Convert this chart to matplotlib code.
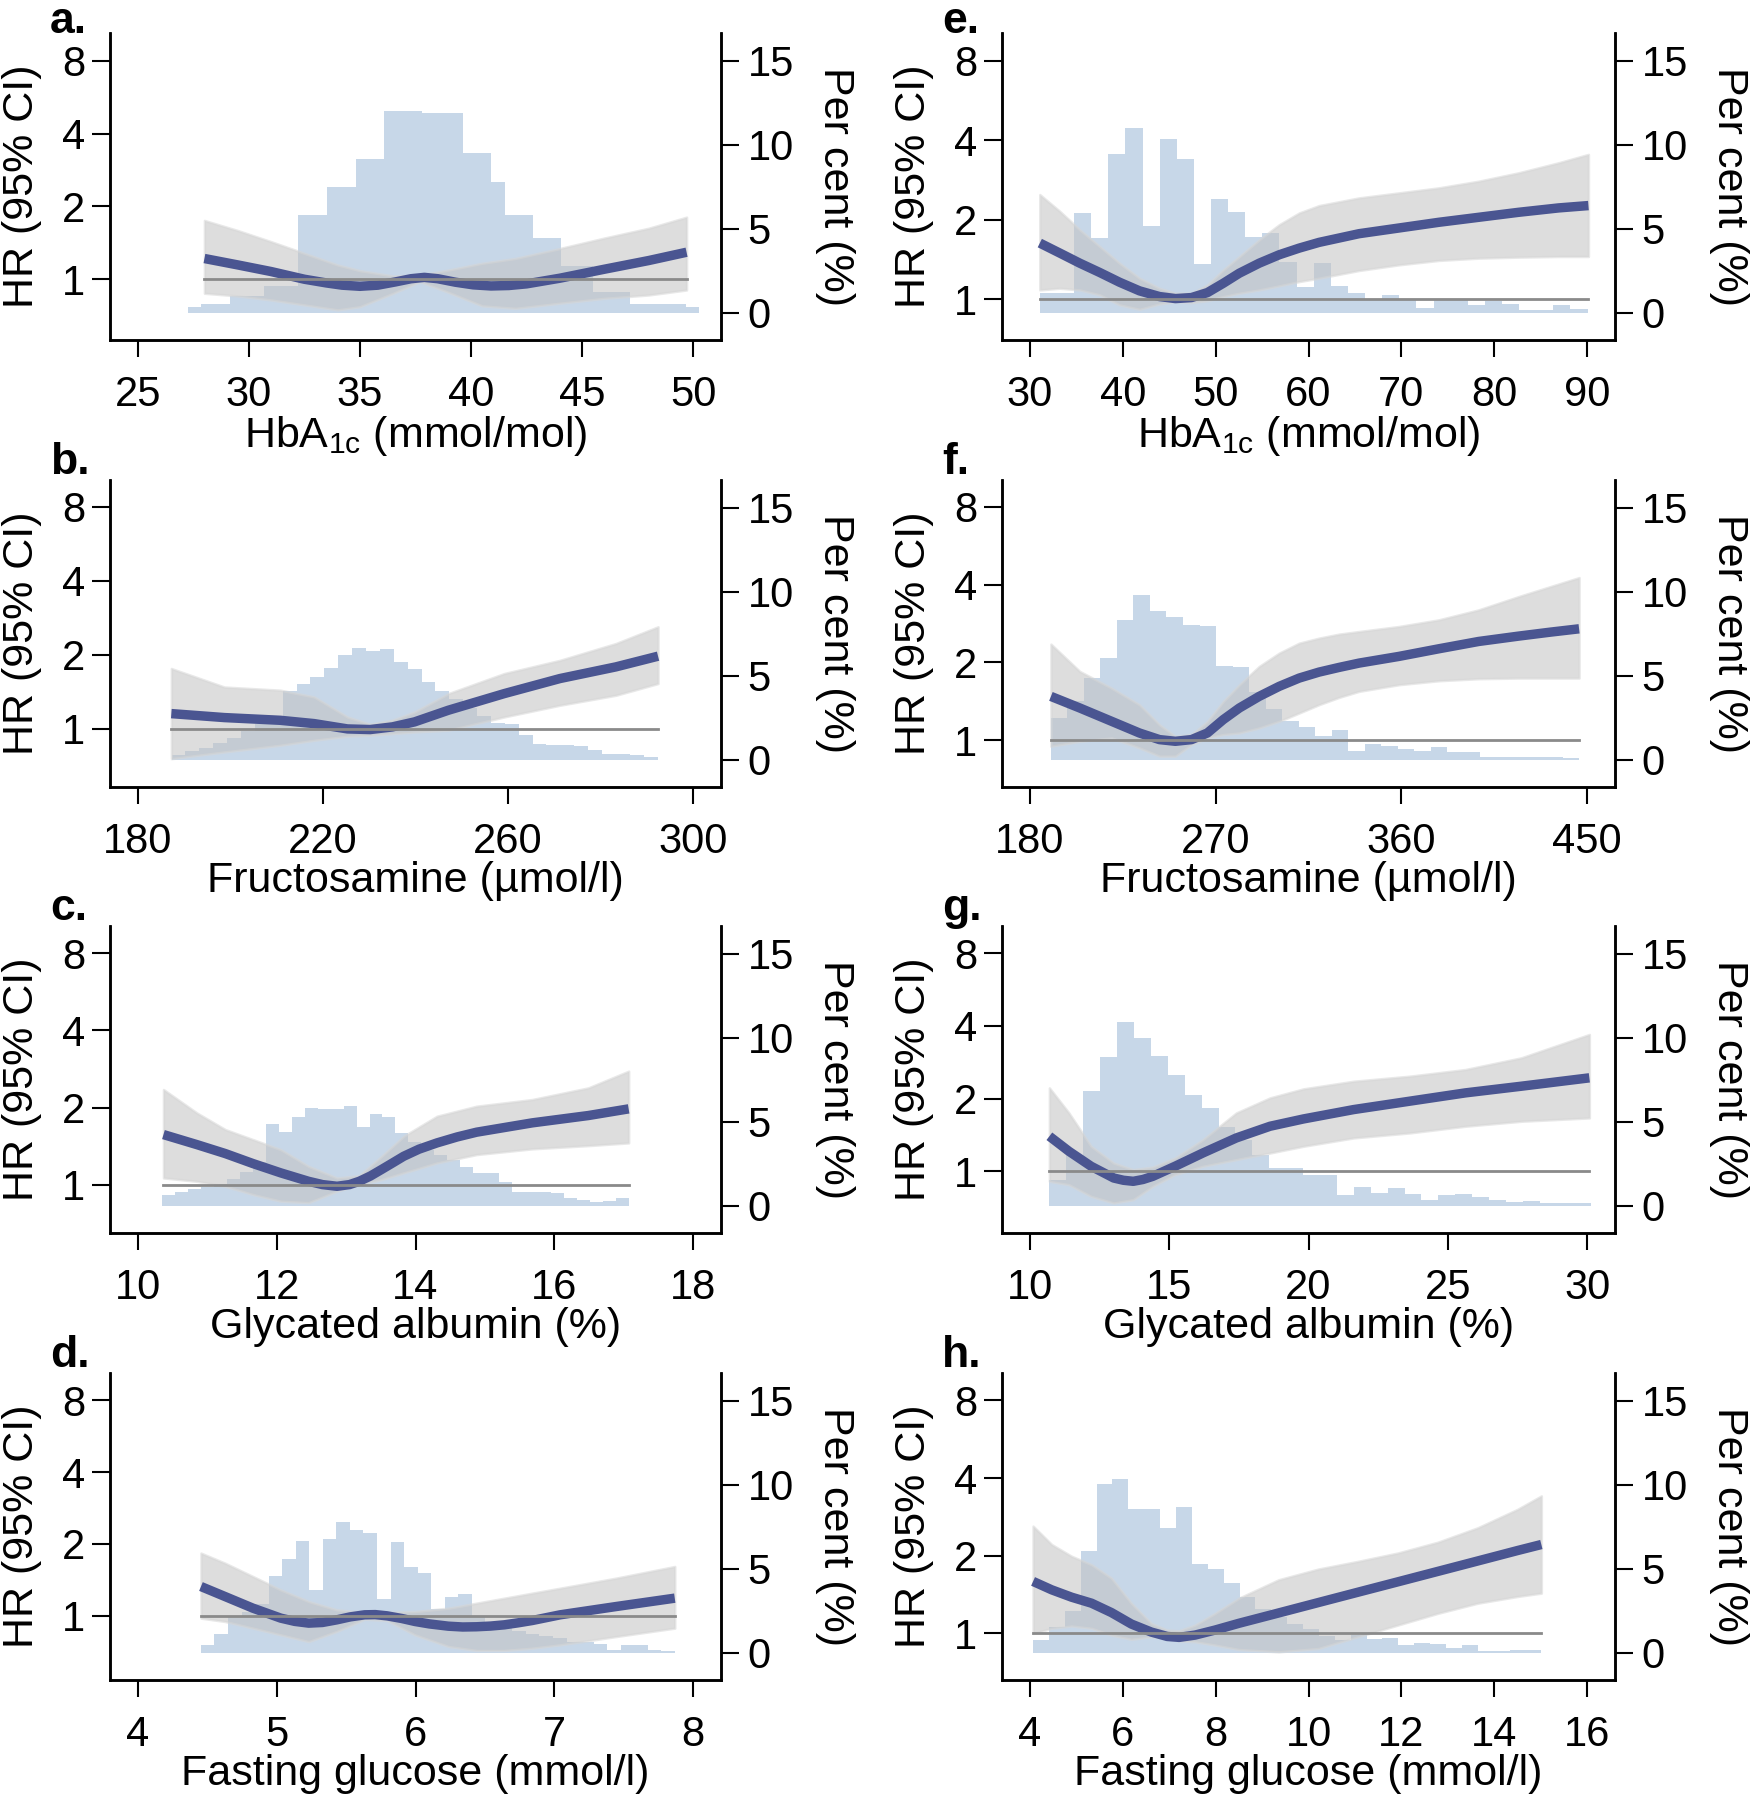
import numpy as np
import matplotlib.pyplot as plt

plt.rcParams['font.family'] = ['Liberation Sans', 'DejaVu Sans']
plt.rcParams['mathtext.fontset'] = 'custom'
plt.rcParams['mathtext.rm'] = 'Liberation Sans'

HIST = '#c7d7e8'
BAND = '#c2c2c2'
BAND_EDGE = '#d6d6d6'
LINE = '#4a5591'
REF = '#8a8a8a'

# ---- a. HbA1c, left column
a_x = [28.0, 29.5, 31.0, 32.5, 34.0, 35.0, 36.5, 37.7, 39.0, 40.5, 42.0, 44.0, 46.0, 48.0, 49.7]
a_hi = [1.75, 1.59, 1.43, 1.28, 1.146, 1.086, 1.032, 1.039, 1.093, 1.165, 1.22, 1.34, 1.48, 1.625, 1.805]
a_lo = [0.875, 0.853, 0.821, 0.783, 0.747, 0.77, 0.875, 0.978, 0.881, 0.776, 0.758, 0.796, 0.834, 0.861, 0.903]
a_lx = [28.0, 29.5, 31.0, 32.5, 33.5, 34.2, 35.0, 35.8, 36.6, 37.3, 37.9, 38.5, 39.3, 40.1,
        40.9, 41.7, 42.5, 44.0, 46.0, 48.0, 49.7]
a_hr = [1.218, 1.146, 1.076, 1.0, 0.965, 0.945, 0.935, 0.945, 0.975, 1.005, 1.018, 1.005, 0.972,
        0.948, 0.938, 0.942, 0.957, 1.01, 1.10, 1.195, 1.293]
a_edges = [27.24, 27.85, 29.15, 30.7, 32.2, 33.52, 34.8, 36.07, 37.8, 39.63, 40.9, 41.54,
           42.81, 44.03, 45.5, 47.14, 48.41, 49.68, 50.27]
a_pct = [0.32, 0.52, 1.0, 1.6, 5.79, 7.46, 9.15, 12.03, 11.89, 9.5, 7.75, 5.83, 4.47, 2.8,
         1.2, 0.52, 0.52, 0.32]

# ---- b. Fructosamine, left column
b_x = [187.25, 198.7, 210.8, 218.1, 225.3, 230.2, 235.0, 239.8, 247.1, 259.2, 271.2, 283.3, 292.4]
b_hr = [1.154, 1.112, 1.084, 1.051, 1.0, 0.994, 1.019, 1.068, 1.191, 1.392, 1.602, 1.787, 1.975]
b_hi = [1.76, 1.48, 1.437, 1.35, 1.119, 1.045, 1.085, 1.173, 1.392, 1.68, 1.90, 2.224, 2.60]
b_lo = [0.757, 0.806, 0.858, 0.899, 0.934, 0.942, 0.957, 0.972, 0.988, 1.119, 1.248, 1.37, 1.529]
b_start, b_width = 187.3, 3.0
b_pct = [0.3, 0.5, 0.7, 1.0, 1.3, 1.7, 2.1, 2.6, 4.1, 4.5, 4.9, 5.43, 6.22, 6.64, 6.44, 6.58,
         5.79, 5.37, 4.6, 4.1, 3.6, 3.1, 2.6, 2.2, 2.1, 1.45, 0.95, 0.9, 0.85, 0.8, 0.55, 0.35,
         0.35, 0.25, 0.15]

# ---- c. Glycated albumin, left column
c_x = [10.37, 10.85, 11.26, 11.66, 12.06, 12.46, 12.87, 13.19, 13.51, 13.83, 14.31, 14.88, 15.68, 16.49, 17.07]
c_hi = [2.352, 1.906, 1.641, 1.499, 1.37, 1.179, 1.062, 1.084, 1.29, 1.545, 1.85, 2.024, 2.149, 2.387, 2.774]
c_lo = [1.062, 1.03, 0.985, 0.914, 0.861, 0.85, 0.942, 1.0, 1.046, 1.111, 1.215, 1.31, 1.379, 1.42, 1.455]
c_lx = [10.37, 10.85, 11.26, 11.66, 12.06, 12.46, 12.66, 12.87, 13.05, 13.19, 13.35, 13.51,
        13.67, 13.83, 14.05, 14.31, 14.6, 14.88, 15.68, 16.49, 17.07]
c_hr = [1.568, 1.433, 1.322, 1.208, 1.111, 1.03, 1.0, 0.985, 1.0, 1.03, 1.08, 1.145, 1.215,
        1.29, 1.375, 1.455, 1.535, 1.602, 1.742, 1.861, 1.976]
c_start, c_width = 10.354, 0.1865
c_pct = [0.64, 0.83, 1.0, 1.1, 1.3, 1.6, 2.0, 2.6, 4.85, 4.37, 5.3, 5.84, 5.74, 5.78, 5.94, 4.67,
         5.44, 5.27, 4.31, 3.8, 3.3, 3.0, 2.7, 2.3, 1.93, 1.93, 1.43, 0.83, 0.83, 0.8, 0.74, 0.44,
         0.34, 0.24, 0.3, 0.44]

# ---- d. Fasting glucose, left column
d_x = [4.455, 4.628, 4.829, 5.03, 5.231, 5.433, 5.634, 5.795, 5.996, 6.237, 6.439, 6.64, 6.841, 7.042, 7.445, 7.867]
d_hi = [1.832, 1.663, 1.462, 1.285, 1.149, 1.06, 1.033, 1.033, 1.043, 1.077, 1.13, 1.186, 1.245, 1.306, 1.439, 1.61]
d_lo = [0.978, 0.947, 0.888, 0.832, 0.78, 0.86, 0.968, 0.956, 0.832, 0.744, 0.716, 0.716, 0.732, 0.756, 0.819, 0.888]
d_lx = [4.455, 4.628, 4.829, 5.03, 5.13, 5.231, 5.33, 5.433, 5.53, 5.634, 5.71, 5.795, 5.9,
        5.996, 6.1, 6.237, 6.34, 6.439, 6.54, 6.64, 6.74, 6.841, 7.042, 7.445, 7.867]
d_hr = [1.327, 1.205, 1.077, 0.978, 0.948, 0.932, 0.938, 0.962, 0.99, 1.01, 1.012, 1.0, 0.975,
        0.947, 0.925, 0.905, 0.898, 0.9, 0.906, 0.917, 0.935, 0.956, 1.01, 1.094, 1.186]
d_start, d_width = 4.455, 0.0975
d_pct = [0.44, 1.09, 2.1, 2.4, 2.9, 4.57, 5.58, 6.62, 3.72, 6.74, 7.79, 7.33, 7.15, 3.22, 6.58,
         5.07, 4.77, 2.6, 3.32, 3.48, 2.2, 1.8, 1.5, 1.3, 1.1, 1.0, 0.9, 0.64, 0.64, 0.54, 0.14,
         0.44, 0.44, 0.18, 0.1]

# ---- e. HbA1c, right column
e_x = [31.07, 33.22, 35.37, 37.52, 39.66, 41.81, 43.96, 45.68, 47.40, 49.12, 50.83, 52.55,
       54.70, 56.85, 59.0, 61.14, 65.44, 69.73, 74.03, 78.32, 82.62, 86.92, 90.14]
e_hr = [1.632, 1.496, 1.370, 1.263, 1.160, 1.076, 1.024, 1.006, 1.015, 1.06, 1.150, 1.255,
        1.370, 1.474, 1.562, 1.642, 1.771, 1.861, 1.956, 2.043, 2.134, 2.217, 2.263]
e_hi = [2.491, 2.153, 1.834, 1.585, 1.370, 1.202, 1.101, 1.054, 1.054, 1.134, 1.293, 1.452,
        1.681, 1.916, 2.122, 2.263, 2.42, 2.528, 2.641, 2.799, 3.011, 3.286, 3.535]
e_lo = [1.085, 1.101, 1.085, 1.039, 0.952, 0.916, 0.96, 0.98, 0.971, 0.988, 1.024, 1.054,
        1.085, 1.124, 1.167, 1.202, 1.285, 1.35, 1.403, 1.431, 1.444, 1.452, 1.452]
e_start, e_width = 31.07, 1.843
e_pct = [1.16, 1.16, 5.94, 4.44, 9.42, 10.98, 5.14, 10.32, 9.12, 2.91, 6.77, 5.98, 4.5, 4.74,
         3.0, 1.51, 2.95, 1.59, 1.16, 0.8, 1.02, 0.8, 0.26, 0.8, 0.8, 0.46, 0.72, 0.52, 0.16,
         0.16, 0.46, 0.2]

# ---- f. Fructosamine, right column
f_x = [190.2, 204.2, 219.6, 233.1, 242.8, 250.5, 258.3, 266.0, 273.7, 281.5, 291.1, 300.8,
       310.5, 320.1, 329.8, 339.5, 358.8, 378.1, 397.4, 416.8, 432.2, 446.1]
f_hr = [1.478, 1.333, 1.184, 1.067, 1.006, 0.991, 1.006, 1.067, 1.202, 1.333, 1.478, 1.616,
        1.74, 1.835, 1.913, 1.988, 2.11, 2.258, 2.41, 2.528, 2.619, 2.698]
f_hi = [2.354, 1.846, 1.592, 1.373, 1.149, 1.036, 1.052, 1.184, 1.414, 1.64, 1.93, 2.173,
        2.375, 2.483, 2.573, 2.634, 2.754, 2.922, 3.193, 3.595, 3.929, 4.256]
f_lo = [0.948, 0.991, 1.021, 0.934, 0.868, 0.868, 0.962, 1.021, 1.052, 1.067, 1.116, 1.184,
        1.275, 1.373, 1.465, 1.546, 1.64, 1.699, 1.73, 1.74, 1.74, 1.74]
f_start, f_width = 190.2, 8.0
f_pct = [2.5, 3.5, 4.89, 6.04, 8.3, 9.79, 8.82, 8.52, 8.02, 7.95, 5.59, 5.49, 4.0, 3.0, 2.3,
         1.96, 1.43, 1.76, 0.53, 0.93, 0.83, 0.63, 0.5, 0.73, 0.44, 0.44, 0.14, 0.14, 0.14, 0.18,
         0.18, 0.1]

# ---- g. Glycated albumin, right column
g_x = [10.70, 11.40, 12.20, 13.01, 13.71, 14.41, 15.21, 16.21, 17.41, 18.62, 19.82, 21.62, 23.63, 25.63, 27.64, 30.08]
g_hi = [2.217, 1.746, 1.27, 1.083, 1.016, 1.042, 1.136, 1.353, 1.746, 2.015, 2.196, 2.362, 2.478, 2.641, 2.953, 3.689]
g_lo = [0.909, 0.88, 0.787, 0.739, 0.763, 0.866, 0.969, 1.049, 1.118, 1.191, 1.27, 1.375, 1.442, 1.537, 1.612, 1.664]
g_lx = [10.70, 11.40, 12.20, 13.01, 13.36, 13.71, 14.06, 14.41, 15.21, 16.21, 17.41, 18.62,
        19.82, 21.62, 23.63, 25.63, 27.64, 30.08]
g_hr = [1.397, 1.211, 1.049, 0.938, 0.918, 0.909, 0.925, 0.953, 1.049, 1.191, 1.375, 1.537,
        1.648, 1.802, 1.952, 2.113, 2.252, 2.439]
g_start, g_width = 10.70, 0.607
g_pct = [1.5, 3.0, 6.85, 8.84, 10.91, 10.01, 8.92, 7.75, 6.56, 5.84, 4.7, 3.9, 3.0, 2.23, 2.23,
         1.83, 1.83, 0.64, 1.09, 0.74, 1.03, 0.7, 0.34, 0.64, 0.68, 0.54, 0.34, 0.24, 0.28, 0.18,
         0.18, 0.14]

# ---- h. Fasting glucose, right column
h_x = [4.069, 4.471, 4.9, 5.329, 5.757, 6.186, 6.614, 6.957, 7.214, 7.557, 7.986, 8.5,
       9.357, 10.214, 11.071, 11.929, 12.786, 13.643, 14.5, 15.014]
h_hr = [1.590, 1.475, 1.381, 1.309, 1.204, 1.087, 1.012, 0.973, 0.965, 0.985, 1.03, 1.094,
        1.2, 1.317, 1.445, 1.585, 1.739, 1.908, 2.094, 2.21]
h_hi = [2.605, 2.21, 1.99, 1.847, 1.638, 1.309, 1.094, 1.03, 1.024, 1.078, 1.196, 1.369,
        1.614, 1.776, 1.903, 2.05, 2.257, 2.566, 3.025, 3.41]
h_lo = [1.0, 1.046, 1.068, 1.046, 0.985, 0.948, 0.971, 0.956, 0.936, 0.928, 0.901, 0.866,
        0.848, 0.874, 0.971, 1.078, 1.196, 1.309, 1.39, 1.432]
h_start, h_width = 4.069, 0.342
h_pct = [0.76, 1.5, 2.5, 6.08, 10.02, 10.36, 8.53, 8.57, 7.41, 8.69, 5.28, 4.98, 4.14, 3.3, 2.6,
         2.1, 1.7, 1.4, 1.0, 0.76, 1.06, 0.8, 0.9, 0.46, 0.56, 0.52, 0.3, 0.46, 0.1, 0.1,
         0.16, 0.16]

hba1c_label = r'HbA$_{\mathrm{1c}}$ (mmol/mol)'
fru_label = 'Fructosamine (µmol/l)'
ga_label = 'Glycated albumin (%)'
fg_label = 'Fasting glucose (mmol/l)'

hr_ticks = [1, 2, 4, 8]
pct_ticks = [0, 5, 10, 15]

W, H = 1751, 1800
fig = plt.figure(figsize=(W / 100, H / 100), dpi=100)

col_left = [110 / W, 1002 / W]
col_width = [611 / W, 613 / W]
row_top_px = [33, 480, 926, 1373]
row_height_px = 307


def edges_from(start, width, n):
    return start + width * np.arange(n + 1)


def draw_panel(col, row, letter, bx, lo, hi, lx, hr, edges, pct, xticks, xlabel, hr_exp):
    top = row_top_px[row]
    rect = [col_left[col], 1 - (top + row_height_px) / H, col_width[col], row_height_px / H]
    ax = fig.add_axes(rect)
    axh = ax.twinx()

    # histogram on the per-cent axis (underneath)
    ax.stairs(pct, edges, fill=True, color=HIST, lw=0)
    ax.set_ylim(-1.63, 16.65)
    pad = 0.05 * (xticks[-1] - xticks[0])
    ax.set_xlim(xticks[0] - pad, xticks[-1] + pad)

    # spline estimate on the HR axis
    axh.set_yscale('log', base=2)
    axh.fill_between(bx, lo, hi, facecolor=BAND, edgecolor=BAND_EDGE, alpha=0.55, lw=1.8, zorder=2)
    axh.plot(lx, hr, color=LINE, lw=6.8, solid_capstyle='butt', solid_joinstyle='round', zorder=3)
    axh.plot([bx[0], bx[-1]], [1, 1], color=REF, lw=2.0, zorder=4)
    axh.set_ylim(2 ** hr_exp[0], 2 ** hr_exp[1])
    axh.set_yticks(hr_ticks)
    axh.set_yticklabels([str(t) for t in hr_ticks])
    axh.yaxis.set_minor_locator(plt.NullLocator())

    ax.set_xticks(xticks)
    ax.set_xticklabels([str(t) for t in xticks])
    ax.set_yticks(pct_ticks)

    ax.yaxis.tick_right()
    ax.yaxis.set_label_position('right')
    axh.yaxis.tick_left()
    axh.yaxis.set_label_position('left')

    for a in (ax, axh):
        a.spines['top'].set_visible(False)
        for s in ('left', 'right', 'bottom'):
            a.spines[s].set_linewidth(1.8)
    ax.tick_params(axis='x', length=12.5, width=1.5, labelsize=30, pad=13)
    ax.tick_params(axis='y', length=13, width=1.5, labelsize=30, pad=6)
    axh.tick_params(axis='y', which='major', length=13, width=1.5, labelsize=30, pad=5)

    ax.set_xlabel(xlabel, fontsize=31, labelpad=-1)
    axh.set_ylabel('HR (95% CI)', fontsize=31, labelpad=14)
    ax.set_ylabel('Per cent (%)', fontsize=31, rotation=270, va='bottom', labelpad=15)

    # panel letter: top of its box sits ~38 px above the frame, kept inside the figure
    letter_top = max(top - 38, 1)
    fig.text(rect[0] - 60 / W, 1 - letter_top / H, letter,
             fontsize=32, fontweight='bold', ha='left', va='top')


draw_panel(0, 0, 'a.', a_x, a_lo, a_hi, a_lx, a_hr, a_edges, a_pct,
           [25, 30, 35, 40, 45, 50], hba1c_label, (-0.834, 3.38))
draw_panel(0, 1, 'b.', b_x, b_lo, b_hi, b_x, b_hr, edges_from(b_start, b_width, len(b_pct)), b_pct,
           [180, 220, 260, 300], fru_label, (-0.784, 3.36))
draw_panel(0, 2, 'c.', c_x, c_lo, c_hi, c_lx, c_hr, edges_from(c_start, c_width, len(c_pct)), c_pct,
           [10, 12, 14, 16, 18], ga_label, (-0.628, 3.355))
draw_panel(0, 3, 'd.', d_x, d_lo, d_hi, d_lx, d_hr, edges_from(d_start, d_width, len(d_pct)), d_pct,
           [4, 5, 6, 7, 8], fg_label, (-0.893, 3.38))
draw_panel(1, 0, 'e.', e_x, e_lo, e_hi, e_x, e_hr, edges_from(e_start, e_width, len(e_pct)), e_pct,
           [30, 40, 50, 60, 70, 80, 90], hba1c_label, (-0.512, 3.348))
draw_panel(1, 1, 'f.', f_x, f_lo, f_hi, f_x, f_hr, edges_from(f_start, f_width, len(f_pct)), f_pct,
           [180, 270, 360, 450], fru_label, (-0.6, 3.343))
draw_panel(1, 2, 'g.', g_x, g_lo, g_hi, g_lx, g_hr, edges_from(g_start, g_width, len(g_pct)), g_pct,
           [10, 15, 20, 25, 30], ga_label, (-0.849, 3.376))
draw_panel(1, 3, 'h.', h_x, h_lo, h_hi, h_x, h_hr, edges_from(h_start, h_width, len(h_pct)), h_pct,
           [4, 6, 8, 10, 12, 14, 16], fg_label, (-0.6, 3.352))

fig.savefig('out.png', dpi=100)
